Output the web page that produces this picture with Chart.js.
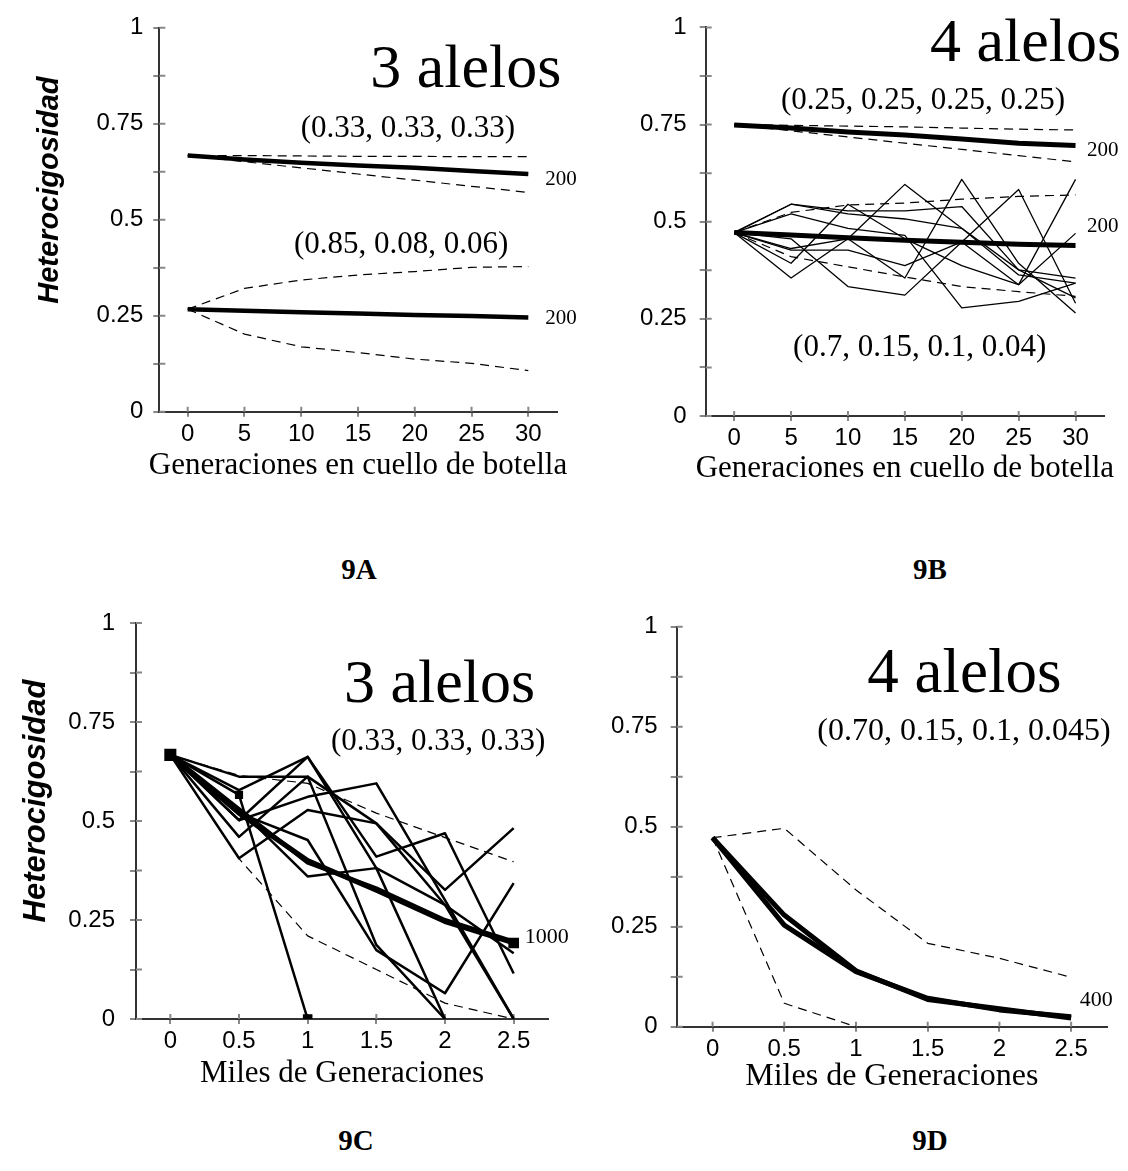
<!DOCTYPE html>
<html>
<head>
<meta charset="utf-8">
<script src="https://cdn.jsdelivr.net/npm/chart.js@4.4.0/dist/chart.umd.min.js"></script>
<style>
  body { margin: 0; width: 1128px; height: 1171px; background: #fff; position: relative; overflow: hidden; }
  canvas { position: absolute; }
  .fig { position: absolute; font: bold 29px "Liberation Serif", serif; line-height: 29px; transform: translateX(-50%); white-space: nowrap; }
</style>
</head>
<body>
<canvas id="chartA"></canvas>
<canvas id="chartB"></canvas>
<canvas id="chartC"></canvas>
<canvas id="chartD"></canvas>
<div class="fig" style="left:359px; top:555px;">9A</div>
<div class="fig" style="left:930px; top:555px;">9B</div>
<div class="fig" style="left:356px; top:1126px;">9C</div>
<div class="fig" style="left:930px; top:1126px;">9D</div>
<script>
// x positions
const genX = [0, 5, 10, 15, 20, 25, 30];
const milesX = [0, 0.5, 1, 1.5, 2, 2.5];
const yTicks = [0, 0.125, 0.25, 0.375, 0.5, 0.625, 0.75, 0.875, 1];

// 9A - 3 alelos, 200 individuos
const a33Mean = [0.667, 0.657, 0.648, 0.641, 0.635, 0.627, 0.619];
const a33Hi   = [0.667, 0.667, 0.666, 0.665, 0.665, 0.664, 0.664];
const a33Lo   = [0.667, 0.651, 0.635, 0.619, 0.603, 0.587, 0.571];
const a85Mean = [0.267, 0.263, 0.259, 0.256, 0.252, 0.249, 0.245];
const a85Hi   = [0.267, 0.321, 0.343, 0.356, 0.365, 0.376, 0.378];
const a85Lo   = [0.267, 0.202, 0.169, 0.154, 0.137, 0.126, 0.107];

// 9B - 4 alelos
const b25Mean = [0.749, 0.741, 0.731, 0.723, 0.713, 0.702, 0.696];
const b25Hi   = [0.750, 0.748, 0.746, 0.744, 0.741, 0.738, 0.736];
const b25Lo   = [0.750, 0.734, 0.718, 0.702, 0.686, 0.670, 0.654];
const b70Mean = [0.472, 0.466, 0.459, 0.452, 0.447, 0.442, 0.439];
const b70Hi   = [0.472, 0.524, 0.543, 0.548, 0.558, 0.565, 0.569];
const b70Lo   = [0.472, 0.410, 0.384, 0.358, 0.333, 0.320, 0.308];
const b70Runs = [
  [0.472, 0.545, 0.528, 0.528, 0.539, 0.376, 0.355],
  [0.472, 0.545, 0.520, 0.507, 0.483, 0.363, 0.342],
  [0.472, 0.520, 0.483, 0.465, 0.278, 0.295, 0.342],
  [0.472, 0.431, 0.456, 0.596, 0.483, 0.376, 0.304],
  [0.472, 0.427, 0.427, 0.387, 0.448, 0.583, 0.290],
  [0.472, 0.393, 0.545, 0.456, 0.387, 0.338, 0.470],
  [0.472, 0.355, 0.456, 0.355, 0.609, 0.393, 0.265],
  [0.472, 0.456, 0.333, 0.311, 0.448, 0.338, 0.609]
];

// 9C - 3 alelos, 1000 generaciones
const cMeanA = [0.667, 0.520, 0.400, 0.325, 0.246, 0.192];
const cMeanB = [0.667, 0.530, 0.395, 0.330, 0.250, 0.196];
const cHi    = [0.667, 0.615, 0.595, 0.520, 0.458, 0.397];
const cLo    = [0.667, 0.405, 0.210, 0.125, 0.040, 0.000];
const cLost  = [0.667, 0.566, 0.000, null, null, null];
const cRuns = [
  [0.667, 0.612, 0.612, 0.494, 0.326, 0.482],
  [0.667, 0.578, 0.662, 0.410, 0.469, 0.115],
  [0.667, 0.502, 0.662, 0.381, 0.000, null],
  [0.667, 0.460, 0.612, 0.187, 0.000, null],
  [0.667, 0.406, 0.528, 0.494, 0.288, 0.000],
  [0.667, 0.502, 0.561, 0.595, 0.300, 0.000],
  [0.667, 0.520, 0.452, 0.174, 0.065, 0.343],
  [0.667, 0.530, 0.360, 0.381, 0.288, 0.166]
];

// 9D - 4 alelos, 400
const dMeanA = [0.4725, 0.254, 0.1375, 0.071, 0.042, 0.025];
const dMeanB = [0.4725, 0.279, 0.140, 0.068, 0.045, 0.022];
const dHi    = [0.4725, 0.496, 0.342, 0.2085, 0.171, 0.1235];
const dLo    = [0.4725, 0.0585, 0, null, null, null];

const SERIF = '"Liberation Serif", "Times New Roman", serif';
const SANS = '"Liberation Sans", Arial, sans-serif';

function series(xs, ys, style) {
    return Object.assign({
        data: xs.map((x, i) => ({ x: x, y: ys[i] })),
        borderColor: '#000',
        backgroundColor: '#000',
        pointRadius: 0,
        fill: false,
        tension: 0,
        borderJoinStyle: 'round'
    }, style);
}

const thick = { borderWidth: 4.5 };
const dashed = { borderWidth: 1.2, borderDash: [9, 6] };
const thin = { borderWidth: 1.3 };

const panelExtras = {
    id: 'panelExtras',
    beforeDatasetsDraw(chart) {
        const { ctx, chartArea: a, scales: { x, y } } = chart;
        ctx.save();
        ctx.strokeStyle = '#888';
        ctx.lineWidth = 2;
        ctx.beginPath();
        y.ticks.forEach(t => {
            const py = y.getPixelForValue(t.value);
            ctx.moveTo(a.left, py);
            ctx.lineTo(a.left + 6, py);
        });
        x.ticks.forEach(t => {
            const px = x.getPixelForValue(t.value);
            ctx.moveTo(px, a.bottom);
            ctx.lineTo(px, a.bottom - 5);
        });
        ctx.stroke();
        ctx.restore();
    },
    afterDraw(chart, args, opts) {
        const { ctx, scales: { x, y } } = chart;
        (opts.notes || []).forEach(n => {
            ctx.save();
            ctx.fillStyle = '#000';
            ctx.font = n.font;
            ctx.textAlign = n.align || 'center';
            ctx.textBaseline = n.baseline || 'alphabetic';
            ctx.translate(x.getPixelForValue(n.x), y.getPixelForValue(n.y));
            if (n.rotate) ctx.rotate(n.rotate);
            ctx.fillText(n.text, 0, 0);
            ctx.restore();
        });
    }
};

function makeChart(p) {
    const cv = document.getElementById(p.id);
    cv.width = p.box.width;
    cv.height = p.box.height;
    cv.style.left = p.box.left + 'px';
    cv.style.top = p.box.top + 'px';

    new Chart(cv, {
        type: 'line',
        data: { datasets: p.datasets },
        options: {
            responsive: false,
            animation: false,
            devicePixelRatio: 1,
            layout: {
                padding: {
                    left: 0,
                    top: p.area.top - p.box.top,
                    right: p.box.left + p.box.width - p.area.right,
                    bottom: 0
                }
            },
            plugins: {
                legend: { display: false },
                tooltip: { enabled: false },
                panelExtras: { notes: p.notes }
            },
            scales: {
                x: {
                    type: 'linear',
                    min: p.xMin,
                    max: p.xMax,
                    afterBuildTicks: s => { s.ticks = p.xTicks.map(v => ({ value: v })); },
                    afterFit: s => { s.height = p.box.top + p.box.height - p.area.bottom; },
                    grid: { drawOnChartArea: false, tickLength: 5, color: '#888', lineWidth: 2 },
                    border: { color: '#333', width: 2 },
                    ticks: { font: { family: SANS, size: 24 }, color: '#000', padding: 3, maxRotation: 0, autoSkip: false, callback: v => String(v) }
                },
                y: {
                    type: 'linear',
                    min: 0,
                    max: 1,
                    afterBuildTicks: s => { s.ticks = yTicks.map(v => ({ value: v })); },
                    afterFit: s => { s.width = p.area.left - p.box.left; },
                    grid: { drawOnChartArea: false, tickLength: 6, color: '#888', lineWidth: 2 },
                    border: { color: '#333', width: 2 },
                    ticks: { font: { family: SANS, size: 24 }, color: '#000', padding: p.yPad, autoSkip: false, callback: v => ((v * 4) % 1 === 0 ? String(v) : '') }
                }
            }
        },
        plugins: [panelExtras]
    });
}

const yTitle = 'Heterocigosidad';

makeChart({
    id: 'chartA',
    box: { left: 0, top: 0, width: 600, height: 520 },
    area: { left: 159.3, top: 27.7, right: 556.7, bottom: 411.7 },
    xMin: -2.5, xMax: 32.5, xTicks: genX, yPad: 10,
    datasets: [
        series(genX, a33Mean, thick),
        series(genX, a85Mean, thick),
        series(genX, a33Hi, dashed),
        series(genX, a33Lo, dashed),
        series(genX, a85Hi, dashed),
        series(genX, a85Lo, dashed)
    ],
    notes: [
        { text: '3 alelos', x: 24.5, y: 0.846, font: '62px ' + SERIF },
        { text: '(0.33, 0.33, 0.33)', x: 19.4, y: 0.715, font: '31px ' + SERIF },
        { text: '(0.85, 0.08, 0.06)', x: 18.8, y: 0.413, font: '31px ' + SERIF },
        { text: '200', x: 31.5, y: 0.59, font: '21px ' + SERIF, align: 'left' },
        { text: '200', x: 31.5, y: 0.228, font: '21px ' + SERIF, align: 'left' },
        { text: 'Generaciones en cuello de botella', x: 15, y: -0.162, font: '31px ' + SERIF },
        { text: yTitle, x: -12.16, y: 0.577, font: 'italic bold 29px ' + SANS, baseline: 'middle', rotate: -Math.PI / 2 }
    ]
});

makeChart({
    id: 'chartB',
    box: { left: 600, top: 0, width: 528, height: 520 },
    area: { left: 705.7, top: 23, right: 1104, bottom: 416 },
    xMin: -2.5, xMax: 32.5, xTicks: genX, yPad: 13,
    datasets: [
        series(genX, b25Mean, { borderWidth: 5 }),
        series(genX, b70Mean, { borderWidth: 5 }),
        series(genX, b25Hi, dashed),
        series(genX, b25Lo, dashed),
        series(genX, b70Hi, dashed),
        series(genX, b70Lo, dashed),
        ...b70Runs.map(r => series(genX, r, thin))
    ],
    notes: [
        { text: '4 alelos', x: 25.6, y: 0.914, font: '62px ' + SERIF },
        { text: '(0.25, 0.25, 0.25, 0.25)', x: 16.6, y: 0.791, font: '31px ' + SERIF },
        { text: '200', x: 31.0, y: 0.669, font: '21px ' + SERIF, align: 'left' },
        { text: '200', x: 31.0, y: 0.473, font: '21px ' + SERIF, align: 'left' },
        { text: '(0.7, 0.15, 0.1, 0.04)', x: 16.3, y: 0.155, font: '31px ' + SERIF },
        { text: 'Generaciones en cuello de botella', x: 15, y: -0.158, font: '31px ' + SERIF }
    ]
});

makeChart({
    id: 'chartC',
    box: { left: 0, top: 590, width: 600, height: 520 },
    area: { left: 136, top: 623, right: 548, bottom: 1019 },
    xMin: -0.25, xMax: 2.75, xTicks: milesX, yPad: 15,
    datasets: [
        series(milesX, cMeanA, { borderWidth: 5, pointStyle: 'rect', pointRadius: [5, 0, 0, 0, 0, 4] }),
        series(milesX, cMeanB, { borderWidth: 4 }),
        series(milesX, cLost, { borderWidth: 2.5, pointStyle: 'rect', pointRadius: [0, 4, 5, 0, 0, 0] }),
        ...cRuns.map(r => series(milesX, r, { borderWidth: 2.5 })),
        series(milesX, cHi, dashed),
        series(milesX, cLo, dashed)
    ],
    notes: [
        { text: '3 alelos', x: 1.96, y: 0.80, font: '62px ' + SERIF },
        { text: '(0.33, 0.33, 0.33)', x: 1.95, y: 0.679, font: '31px ' + SERIF },
        { text: '1000', x: 2.58, y: 0.192, font: '22px ' + SERIF, align: 'left' },
        { text: 'Miles de Generaciones', x: 1.25, y: -0.159, font: '31px ' + SERIF },
        { text: yTitle, x: -0.977, y: 0.5505, font: 'italic bold 31px ' + SANS, baseline: 'middle', rotate: -Math.PI / 2 }
    ]
});

makeChart({
    id: 'chartD',
    box: { left: 600, top: 590, width: 528, height: 520 },
    area: { left: 676.7, top: 626.7, right: 1107, bottom: 1026.7 },
    xMin: -0.25, xMax: 2.75, xTicks: milesX, yPad: 13,
    datasets: [
        series(milesX, dMeanA, { borderWidth: 5 }),
        series(milesX, dMeanB, { borderWidth: 5 }),
        series(milesX, dHi, dashed),
        series(milesX, dLo, dashed)
    ],
    notes: [
        { text: '4 alelos', x: 1.756, y: 0.8375, font: '63px ' + SERIF },
        { text: '(0.70, 0.15, 0.1, 0.045)', x: 1.753, y: 0.717, font: '32px ' + SERIF },
        { text: '400', x: 2.56, y: 0.052, font: '22px ' + SERIF, align: 'left' },
        { text: 'Miles de Generaciones', x: 1.25, y: -0.146, font: '32px ' + SERIF }
    ]
});
</script>
</body>
</html>
